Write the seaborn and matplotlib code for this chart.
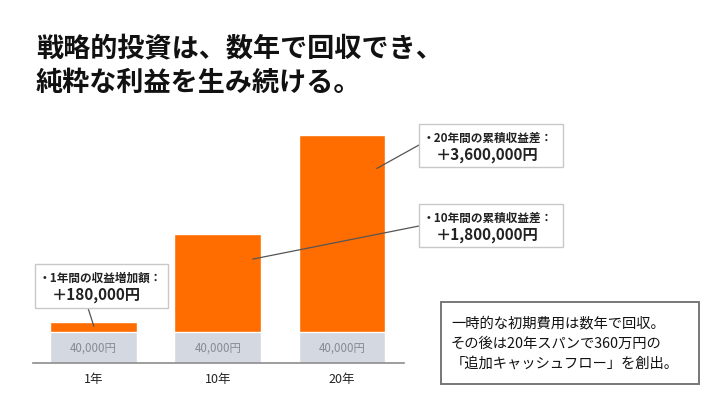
import numpy as np
import pandas as pd
import matplotlib
matplotlib.use("Agg")
import matplotlib.pyplot as plt
import seaborn as sns
from matplotlib.patches import Rectangle

# データ
periods = ["1年", "10年", "20年"]
gain_values = [180000, 1800000, 3600000]      # 累積収益差（円）
cost_labels = ["40,000円", "40,000円", "40,000円"]
cost_bar_height = [566000, 566000, 566000]    # 灰色帯の見た目の高さ（図から推定）
callout_titles = ["・1年間の収益増加額：", "・10年間の累積収益差：", "・20年間の累積収益差："]
callout_values = ["＋180,000円", "＋1,800,000円", "＋3,600,000円"]
title_lines = ["戦略的投資は、数年で回収でき、", "純粋な利益を生み続ける。"]
note_lines = ["一時的な初期費用は数年で回収。",
              "その後は20年スパンで360万円の",
              "「追加キャッシュフロー」を創出。"]

ORANGE = "#ff6d00"
GRAY = "#d4d9e1"

sns.set_style("white")
plt.rcParams['font.family'] = ['Noto Sans CJK JP', 'DejaVu Sans']

W, H = 720, 405
fig = plt.figure(figsize=(7.2, 4.05), dpi=100)


def fx(x):
    return x / W


def fy(y):
    return 1 - y / H


# 軸の位置（ピクセルから）
ax = fig.add_axes([fx(33), fy(363), (404 - 33) / W, (363 - 120) / H])

df = pd.DataFrame({"period": periods, "gain": gain_values, "base": cost_bar_height})
df["total"] = df["gain"] + df["base"]

sns.barplot(data=df, x="period", y="total", color=ORANGE, width=0.7,
            saturation=1, ax=ax)
sns.barplot(data=df, x="period", y="base", color=GRAY, width=0.7,
            saturation=1, ax=ax)

total_px = 228
ymax = df["total"].max() * (363 - 120) / total_px
ax.set_ylim(0, ymax)
ax.set_xlim(-0.49, 2.5)

for i, lab in enumerate(cost_labels):
    ax.text(i, df["base"][i] * 0.47, lab, ha="center", va="center",
            fontsize=8.3, color="#858a94")

sns.despine(ax=ax, left=True)
ax.spines["bottom"].set_color("#8c8c8c")
ax.spines["bottom"].set_linewidth(1.2)
ax.set_yticks([])
ax.set_xlabel("")
ax.set_ylabel("")
ax.tick_params(axis="x", length=0, pad=7, labelsize=9, colors="#222222")

# タイトル
fig.text(fx(36), fy(48), title_lines[0], fontsize=19.5, fontweight="bold",
         color="#111111", va="center", ha="left")
fig.text(fx(36), fy(83), title_lines[1], fontsize=19.5, fontweight="bold",
         color="#111111", va="center", ha="left")

# 吹き出し: (左, 上, 右, 下) ピクセル
boxes = [(35, 264, 168, 308), (419, 204, 563, 247), (419, 124, 563, 167)]
starts = [(88, 308), (419, 226), (419, 145)]
targets = [(0.0, 0.6), (0.28, 0.74), (0.28, 0.83)]

for i in range(3):
    l, t, r, b = boxes[i]
    fig.patches.append(Rectangle((fx(l), fy(b)), (r - l) / W, (b - t) / H,
                                 transform=fig.transFigure, facecolor="white",
                                 edgecolor="#c8c8c8", linewidth=1.0, zorder=3))
    fig.text(fx(l + 4), fy(t + 14), callout_titles[i], fontsize=8.4,
             fontweight="bold", color="#222222", va="center", ha="left", zorder=4)
    fig.text(fx(l + 17), fy(t + 31), callout_values[i], fontsize=11,
             fontweight="bold", color="#222222", va="center", ha="left", zorder=4)
    tx, frac = targets[i]
    ty = df["base"][i] + df["gain"][i] * frac
    sx, sy = starts[i]
    ax.annotate("", xy=(i + tx, ty), xycoords="data",
                xytext=(fx(sx), fy(sy)), textcoords="figure fraction",
                arrowprops=dict(arrowstyle="-", color="#555555", lw=0.9,
                                shrinkA=0, shrinkB=0), zorder=5,
                annotation_clip=False)

# 注記ボックス
fig.patches.append(Rectangle((fx(441), fy(384)), (699 - 441) / W, (384 - 302) / H,
                             transform=fig.transFigure, facecolor="white",
                             edgecolor="#777777", linewidth=1.4, zorder=3))
for k, line in enumerate(note_lines):
    fig.text(fx(451), fy(323 + 20.5 * k), line, fontsize=10.3, color="#111111",
             va="center", ha="left", zorder=4)

fig.savefig("out.png", dpi=100)
